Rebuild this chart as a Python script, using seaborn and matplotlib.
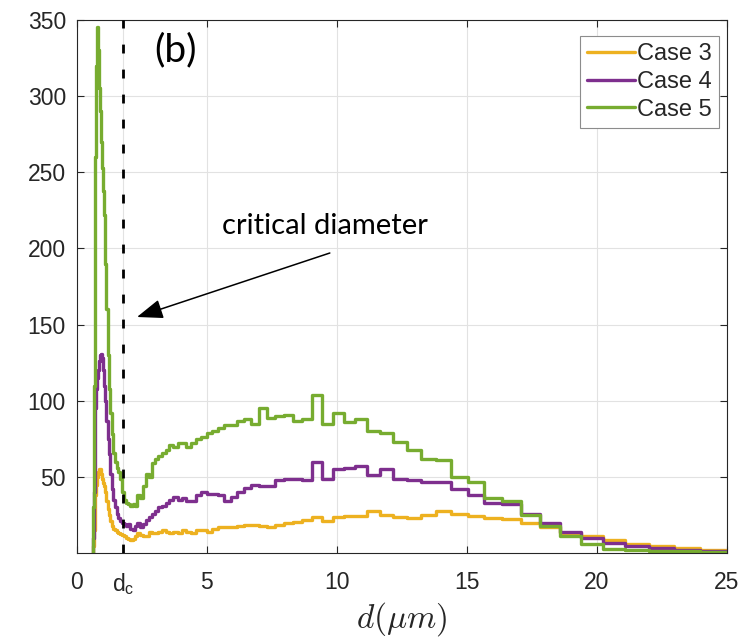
import numpy as np
import pandas as pd
import matplotlib
matplotlib.use("Agg")
import matplotlib.pyplot as plt
import seaborn as sns

# Droplet-size histogram bins (log-spaced in diameter, micrometres)
bin_edges = np.geomspace(0.625, 25.0, 88)

# Counts per bin for each case
case3 = [5, 15, 28, 38, 45, 50, 53, 55, 55, 52,
         49, 46, 44, 40, 34, 29, 25, 21, 18, 16,
         15, 14, 13, 12.5, 12, 11, 10, 9, 8.5, 9,
         11, 13, 12, 11, 11, 14, 13, 13, 14, 15,
         14, 13, 14, 13, 15, 14, 13, 15, 15, 14,
         16, 17, 17.5, 17.5, 18, 18.5, 18.5, 18, 17.5, 18.5,
         19.5, 20.5, 21.5, 23.5, 21, 24, 24.5, 24.5, 27.5, 25,
         23.5, 23, 25, 27.5, 26, 24.5, 23, 22.5, 20, 17,
         13, 11, 8.5, 6.3, 4.6, 3.2, 2]
case4 = [10, 40, 70, 95, 108, 115, 120, 126, 130, 131,
         128, 120, 110, 100, 87, 75, 65, 52, 42, 35,
         30, 26, 23, 21, 20, 19, 18, 19, 16, 15,
         18, 20, 17, 19, 22, 24, 26, 28, 30, 31,
         33, 35, 37, 35, 36, 34, 34, 38, 40, 39,
         39, 38, 34, 37, 40, 43, 45, 44, 44, 48,
         49, 49, 48, 60, 49, 55, 56, 57, 51, 55,
         48.5, 48, 47, 47, 42, 38, 33, 32, 26, 20,
         14, 10, 6.8, 4.6, 3.1, 2, 1.2]
case5 = [30, 110, 190, 260, 320, 345, 330, 305, 290, 270,
         253, 238, 222, 190, 160, 130, 108, 92, 78, 66,
         60, 56, 53, 49, 40, 35, 33, 32, 31, 32,
         31, 38, 36, 44, 52, 50, 59, 62, 64, 66,
         68, 71, 70, 72, 72, 70, 72, 75, 76, 79,
         80, 82, 84, 84, 87, 88, 85, 95, 89, 90,
         91, 87, 88, 104, 85, 92, 86, 88, 80, 79,
         73, 68, 62, 61, 50, 47, 36, 34, 25, 18,
         11, 6.3, 3, 2, 1.5, 1.2, 0.9]

series_names = ["Case 3", "Case 4", "Case 5"]
series_colors = ["#EDB120", "#7E2F8E", "#77AC30"]

d_c = 1.77
x_ticks = [0, d_c, 5, 10, 15, 20, 25]
x_tick_labels = ["0", r"$\mathregular{d_c}$", "5", "10", "15", "20", "25"]
y_ticks = [50, 100, 150, 200, 250, 300, 350]
y_tick_labels = ["50", "100", "150", "200", "250", "300", "350"]

sns.set_theme(style="whitegrid")
plt.rcParams["font.family"] = ["Liberation Sans", "DejaVu Sans"]
plt.rcParams["mathtext.fontset"] = "cm"

# Long-form table: each case drawn as a stair outline starting from zero
frames = []
for name, vals in zip(series_names, [case3, case4, case5]):
    vals = np.asarray(vals, dtype=float)
    frames.append(pd.DataFrame({
        "d": np.r_[bin_edges[0], bin_edges],
        "count": np.r_[0.0, vals, vals[-1]],
        "case": name,
    }))
df = pd.concat(frames, ignore_index=True)

fig = plt.figure(figsize=(7.4, 6.41), dpi=100)
ax = fig.add_axes([0.104, 0.137, 0.878, 0.832])
ax.set_facecolor("white")

sns.lineplot(data=df, x="d", y="count", hue="case",
             palette=dict(zip(series_names, series_colors)),
             estimator=None, sort=False, drawstyle="steps-post",
             linewidth=2.4, ax=ax)

ax.axvline(d_c, color="black", lw=2.0, dashes=(3.2, 5.8), zorder=3)

ax.set_xlim(0, 25)
ax.set_ylim(0, 350)
ax.set_xticks(x_ticks)
ax.set_xticklabels(x_tick_labels)
ax.set_yticks(y_ticks)
ax.set_yticklabels(y_tick_labels)

dark = "#262626"
ax.grid(True, color="#e2e2e2", linewidth=0.8)
for sp in ax.spines.values():
    sp.set_color(dark)
    sp.set_linewidth(0.8)
    sp.set_visible(True)
ax.tick_params(direction="in", length=5, width=0.8, color=dark,
               labelsize=16.5, labelcolor=dark, top=True, right=True,
               bottom=True, left=True, pad=8)
ax.tick_params(axis="x", pad=13)

ax.set_xlabel(r"$d(\mu m)$", fontsize=24, color=dark, labelpad=2)
ax.set_ylabel("")

ax.text(3.78, 330, "(b)", fontsize=28, family="Lato", color="black",
        ha="center", va="center")
ax.text(9.55, 215, "critical diameter", fontsize=21, family="Lato",
        color="black", ha="center", va="center")
ax.annotate("", xy=(2.31, 155), xytext=(9.73, 197),
            arrowprops=dict(arrowstyle="-|>,head_length=0.8,head_width=0.3",
                            color="black", lw=1.1, mutation_scale=20,
                            shrinkA=0, shrinkB=0))

handles, labels = ax.get_legend_handles_labels()
leg = ax.legend(handles, labels, loc="upper right",
                bbox_to_anchor=(0.988, 0.970), borderaxespad=0,
                fontsize=17, handlelength=2.0, handletextpad=0.1,
                labelspacing=0.25, borderpad=0.3, fancybox=False,
                framealpha=1, edgecolor="#8c8c8c")
leg.get_frame().set_linewidth(0.8)
for line in leg.get_lines():
    line.set_linewidth(2.4)

fig.savefig("out.png", dpi=100, facecolor="white")
